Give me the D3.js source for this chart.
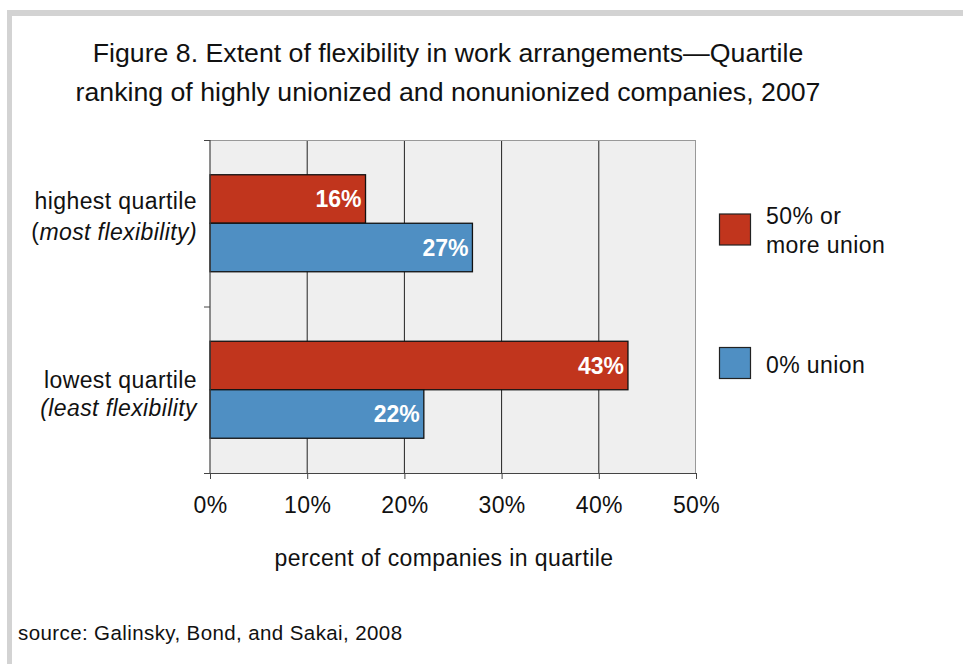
<!DOCTYPE html>
<html><head><meta charset="utf-8">
<script src="https://cdn.jsdelivr.net/npm/d3@7"></script>
<style>
html,body{margin:0;padding:0;background:#fff;}
svg{display:block;font-family:"Liberation Sans",Arial,sans-serif;}
</style></head>
<body>
<svg id="c" width="963" height="664"></svg>
<script>
const titleLines = ["Figure 8. Extent of flexibility in work arrangements\u2014Quartile",
                    "ranking of highly unionized and nonunionized companies, 2007"];
const categories = ["highest", "lowest"];
const categoryLabels = [["highest quartile", "(most flexibility)"], ["lowest quartile", "(least flexibility"]];
const series = ["50% or more union", "0% union"];
const legendLabels = [["50% or", "more union"], ["0% union"]];
const union50 = [16, 43];
const union0 = [27, 22];
const xTicks = [0, 10, 20, 30, 40, 50];
const xTitle = "percent of companies in quartile";
const sourceText = "source: Galinsky, Bond, and Sakai, 2008";
const colors = ["#c1351d", "#4f8fc3"];

const FS = 23, LS = 0.4;
const svg = d3.select("#c");
// frame
svg.append("rect").attr("x",0).attr("y",0).attr("width",963).attr("height",664).attr("fill","#fff");
svg.append("rect").attr("x",7).attr("y",10).attr("width",963).attr("height",6).attr("fill","#d3d3d3");
svg.append("rect").attr("x",7).attr("y",10).attr("width",5).attr("height",664).attr("fill","#d3d3d3");

// title
svg.append("g").selectAll("text").data(titleLines).join("text")
  .attr("x",448).attr("y",(d,i)=>62+i*39).attr("text-anchor","middle")
  .attr("font-size",26.7).attr("fill","#111").text(d=>d);

const x = d3.scaleLinear().domain([0,50]).range([210,696]);
const y = d3.scaleBand().domain(categories).range([140,473]);
const ys = d3.scaleBand().domain(series).range([0,97]);

const plot = svg.append("g");
plot.append("rect").attr("x",x(0)).attr("y",140).attr("width",x(50)-x(0)).attr("height",333).attr("fill","#efefef");
// grid
plot.selectAll("line.grid").data(xTicks.filter(t=>t>0&&t<50)).join("line")
  .attr("x1",d=>x(d)).attr("x2",d=>x(d)).attr("y1",140).attr("y2",473)
  .attr("stroke","#222").attr("stroke-width",1);
plot.append("line").attr("x1",x(0)).attr("x2",x(50)).attr("y1",140.5).attr("y2",140.5).attr("stroke","#999");
plot.append("line").attr("x1",x(50)-0.5).attr("x2",x(50)-0.5).attr("y1",140).attr("y2",473).attr("stroke","#999");

// bars
const data = categories.map((c,i)=>({cat:c, vals:[union50[i], union0[i]]}));
const groups = plot.selectAll("g.cat").data(data).join("g")
  .attr("transform",d=>`translate(0,${y(d.cat)+y.bandwidth()/2-48.5})`);
groups.each(function(d){
  const g = d3.select(this);
  d.vals.forEach((v,j)=>{
    g.append("rect").attr("x",x(0)).attr("y",ys(series[j])).attr("width",x(v)-x(0)).attr("height",ys.bandwidth())
      .attr("fill",colors[j]).attr("stroke","#111").attr("stroke-width",1.3);
    g.append("text").attr("x",x(v)-4).attr("y",ys(series[j])+ys.bandwidth()/2+8)
      .attr("text-anchor","end").attr("font-size",23).attr("font-weight","bold").attr("fill","#fff").text(v+"%");
  });
});

// axes
const xAxis = d3.axisBottom(x).tickValues(xTicks).tickFormat(d=>d+"%").tickSize(6).tickSizeOuter(0);
const gx = svg.append("g").attr("transform","translate(0,473)").call(xAxis);
gx.select(".domain").attr("stroke","#444").attr("d","M204,0.5H696");
gx.selectAll(".tick line").attr("stroke","#444");
gx.selectAll(".tick text").attr("font-size",FS).attr("letter-spacing",LS).attr("fill","#111").attr("y",40).attr("dy",0)
  .attr("font-family","'Liberation Sans',Arial,sans-serif");

const yAxisLine = svg.append("g");
yAxisLine.append("line").attr("x1",210).attr("x2",210).attr("y1",140).attr("y2",473).attr("stroke","#444").attr("stroke-width",1.2);
const yTickPos = [140, y(categories[1]), 473];
yAxisLine.selectAll("line.t").data(yTickPos).join("line").attr("class","t")
  .attr("x1",204).attr("x2",210).attr("y1",d=>d+0.5).attr("y2",d=>d+0.5).attr("stroke","#444");

// category labels
const labelOffsets = [[-14, 17], [-1.5, 26]];
categoryLabels.forEach((lines,i)=>{
  const cy = y(categories[i])+y.bandwidth()/2;
  const t = svg.append("text").attr("text-anchor","end").attr("font-size",FS).attr("letter-spacing",LS).attr("fill","#111");
  t.append("tspan").attr("x",197).attr("y",cy+labelOffsets[i][0]).text(lines[0]);
  const second = lines[1];
  const t2 = t.append("tspan").attr("x",197).attr("y",cy+labelOffsets[i][1]);
  if (i===0) {
    t2.append("tspan").text("(");
    t2.append("tspan").attr("font-style","italic").text(second.slice(1));
  } else {
    t2.attr("font-style","italic").text(second);
  }
});

// legend
const legY = [214, 347.5];
legendLabels.forEach((lines,i)=>{
  svg.append("rect").attr("x",719.5).attr("y",legY[i]).attr("width",31).attr("height",31)
    .attr("fill",colors[i]).attr("stroke","#222").attr("stroke-width",1.2);
  lines.forEach((l,k)=>{
    svg.append("text").attr("x",766).attr("y",legY[i]+(lines.length===1?25:9.5+k*29.5))
      .attr("font-size",FS).attr("letter-spacing",LS).attr("fill","#111").text(l);
  });
});

// x title
svg.append("text").attr("x",444).attr("y",566).attr("text-anchor","middle").attr("font-size",FS).attr("letter-spacing",LS).attr("fill","#111").text(xTitle);
// source
svg.append("text").attr("x",18).attr("y",640).attr("font-size",20.5).attr("letter-spacing",0.4).attr("fill","#111").text(sourceText);
</script>
</body></html>
